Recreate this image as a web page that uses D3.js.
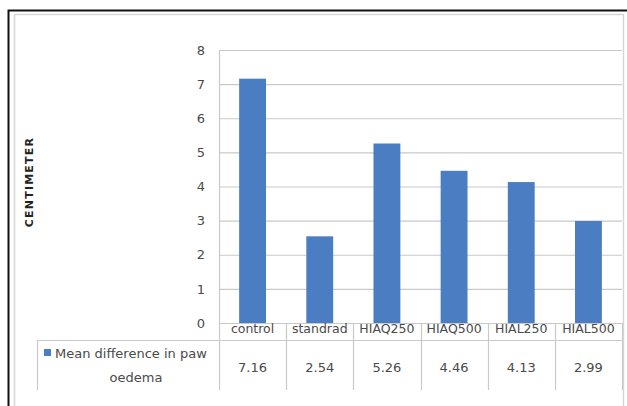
<!DOCTYPE html>
<html>
<head>
<meta charset="utf-8">
<script src="https://cdn.jsdelivr.net/npm/d3@7"></script>
<style>
  html, body { margin: 0; padding: 0; background: #fff; }
  svg { display: block; }
  text { font-family: "DejaVu Sans", sans-serif; }
</style>
</head>
<body>
<svg id="chart" width="627" height="406"></svg>
<script>
// Paw oedema data, one value per treatment group
const categories = ["control", "standrad", "HIAQ250", "HIAQ500", "HIAL250", "HIAL500"];
const meanDifference = [7.16, 2.54, 5.26, 4.46, 4.13, 2.99];
const seriesName = ["Mean difference in paw", "oedema"];
const yTicks = [0, 1, 2, 3, 4, 5, 6, 7, 8];
const yAxisTitle = "CENTIMETER";

const svg = d3.select("#chart");
const W = 627, H = 406;
const plot = { left: 219, right: 622, top: 50, bottom: 323 };
const table = { left: 37, headerBottom: 340, bottom: 390 };
const barColor = "#4a7dc1";
const gridColor = "#c9c9c9";
const textColor = "#4a4a4a";

// Outer frame
svg.append("rect").attr("width", W).attr("height", H).attr("fill", "#fff");
svg.append("path")
  .attr("d", `M8.5,406 V10.5 H627`)
  .attr("fill", "none").attr("stroke", "#111").attr("stroke-width", 2);
// Chart area border
svg.append("path")
  .attr("d", `M14.5,406 V14.5 H623.5 V406`)
  .attr("fill", "none").attr("stroke", "#d6d6d6").attr("stroke-width", 1.5);

const x = d3.scaleBand().domain(categories).range([plot.left, plot.right]).paddingInner(0).paddingOuter(0);
const y = d3.scaleLinear().domain([0, 8]).range([plot.bottom, plot.top]);

// Horizontal gridlines with tick labels
const yAxis = d3.axisLeft(y).tickValues(yTicks).tickSize(-(plot.right - plot.left)).tickPadding(14);
const gy = svg.append("g").attr("transform", `translate(${plot.left},0)`).call(yAxis);
gy.select(".domain").remove();
gy.selectAll(".tick line").attr("stroke", gridColor).attr("stroke-width", 1.2);
gy.selectAll(".tick text")
  .attr("fill", textColor).attr("font-size", 13).attr("font-family", "DejaVu Sans, sans-serif");

// Plot left edge
svg.append("line")
  .attr("x1", plot.left + 0.5).attr("x2", plot.left + 0.5)
  .attr("y1", plot.top).attr("y2", table.bottom)
  .attr("stroke", gridColor).attr("stroke-width", 1.2);

// Bars
const barW = x.bandwidth() / 2.5;
svg.append("g").selectAll("rect")
  .data(categories.map((c, i) => ({ c, v: meanDifference[i] })))
  .join("rect")
  .attr("x", d => x(d.c) + (x.bandwidth() - barW) / 2)
  .attr("width", barW)
  .attr("y", d => y(d.v))
  .attr("height", d => y(0) - y(d.v))
  .attr("fill", barColor);

// Data table: column dividers
const edges = categories.map(c => x(c)).concat([x(categories[categories.length - 1]) + x.bandwidth()]);
svg.append("g").selectAll("line")
  .data(edges.slice(1))
  .join("line")
  .attr("x1", d => Math.round(d) + 0.5).attr("x2", d => Math.round(d) + 0.5)
  .attr("y1", plot.bottom).attr("y2", table.bottom)
  .attr("stroke", gridColor).attr("stroke-width", 1.2);
// Series label column left edge
svg.append("line")
  .attr("x1", table.left + 0.5).attr("x2", table.left + 0.5)
  .attr("y1", table.headerBottom).attr("y2", table.bottom)
  .attr("stroke", gridColor).attr("stroke-width", 1.2);
// Header bottom rule
svg.append("line")
  .attr("x1", table.left).attr("x2", plot.right)
  .attr("y1", table.headerBottom + 0.5).attr("y2", table.headerBottom + 0.5)
  .attr("stroke", gridColor).attr("stroke-width", 1.2);

// Category labels
svg.append("g").selectAll("text")
  .data(categories)
  .join("text")
  .attr("x", d => x(d) + x.bandwidth() / 2)
  .attr("y", 332.5)
  .attr("text-anchor", "middle")
  .attr("font-size", 12.5)
  .attr("fill", textColor)
  .text(d => d);

// Values row
svg.append("g").selectAll("text")
  .data(categories.map((c, i) => ({ c, v: meanDifference[i] })))
  .join("text")
  .attr("x", d => x(d.c) + x.bandwidth() / 2)
  .attr("y", 371.5)
  .attr("text-anchor", "middle")
  .attr("font-size", 13)
  .attr("fill", textColor)
  .text(d => d.v.toFixed(2));

// Series legend key and name
svg.append("rect")
  .attr("x", 44).attr("y", 349).attr("width", 7).attr("height", 7)
  .attr("fill", barColor);
svg.append("text")
  .attr("x", 55).attr("y", 357.5)
  .attr("font-size", 13).attr("fill", textColor)
  .text(seriesName[0]);
svg.append("text")
  .attr("x", 136).attr("y", 381.5)
  .attr("text-anchor", "middle")
  .attr("font-size", 13).attr("fill", textColor)
  .text(seriesName[1]);

// Vertical axis title
svg.append("text")
  .attr("transform", `translate(33,182) rotate(-90)`)
  .attr("text-anchor", "middle")
  .attr("font-size", 11)
  .attr("font-weight", "bold")
  .attr("letter-spacing", 1.2)
  .attr("fill", "#222")
  .text(yAxisTitle);
</script>
</body>
</html>
